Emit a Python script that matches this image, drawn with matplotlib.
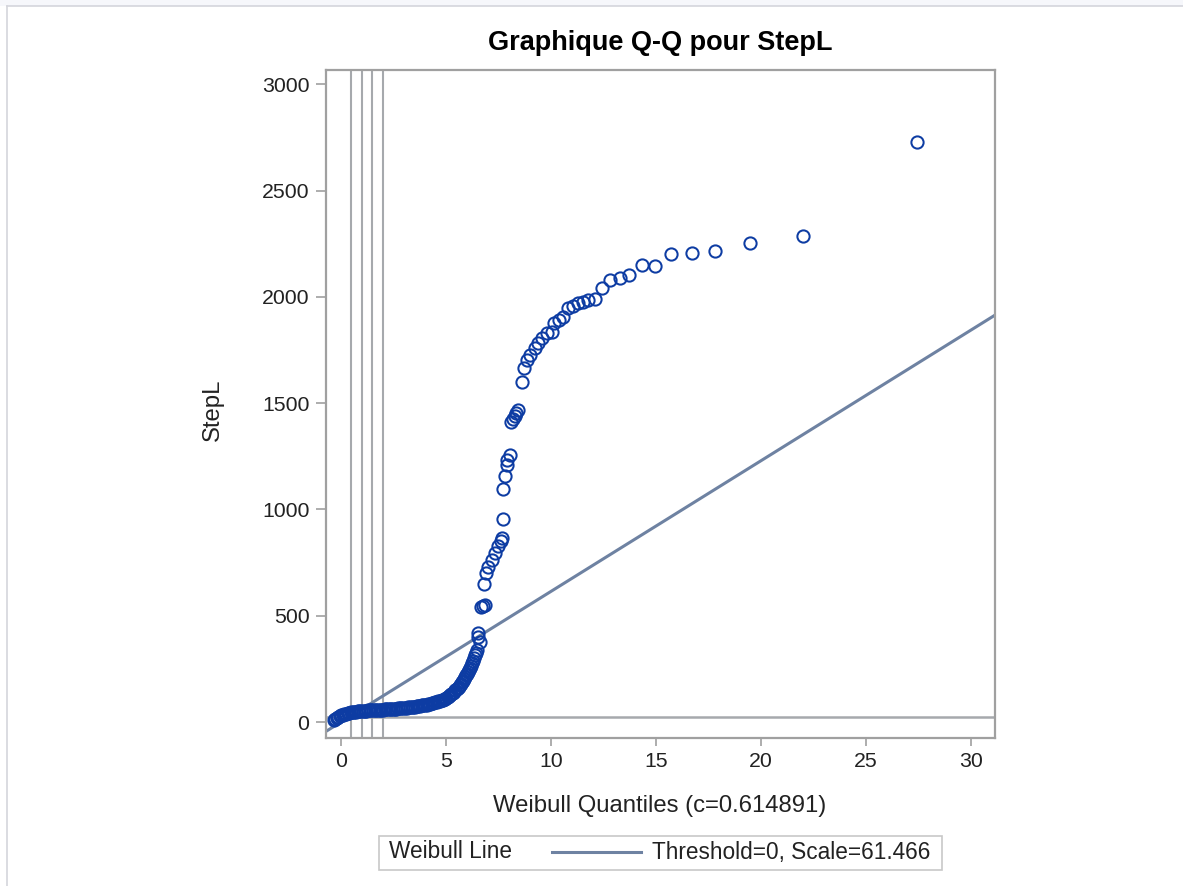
import matplotlib
matplotlib.use("Agg")
import matplotlib.pyplot as plt
from matplotlib.lines import Line2D
from matplotlib.patches import Rectangle

plt.rcParams['font.family'] = ['Liberation Sans', 'DejaVu Sans']

# ---- data ----
title = "Graphique Q-Q pour StepL"
x_label = "Weibull Quantiles (c=0.614891)"
y_label = "StepL"
legend_label = "Weibull Line"
legend_text = "Threshold=0, Scale=61.466"
threshold = 0.0
scale = 61.466

x_ticks = [0, 5, 10, 15, 20, 25, 30]
y_ticks = [0, 500, 1000, 1500, 2000, 2500, 3000]
href_values = [0.5, 1.0, 1.5, 2.0]
vref_values = [24]

# dense lower band of observations
band_q = [-0.35, -0.28, -0.21, -0.14, -0.07, 0.00, 0.08, 0.16, 0.24, 0.32,
          0.40, 0.48, 0.56, 0.64, 0.72, 0.80, 0.88, 0.96, 1.04, 1.12,
          1.20, 1.28, 1.36, 1.44, 1.52, 1.60, 1.68, 1.76, 1.84, 1.92,
          2.00, 2.08, 2.16, 2.24, 2.32, 2.40, 2.48, 2.56, 2.64, 2.72,
          2.80, 2.88, 2.96, 3.04, 3.12, 3.20, 3.28, 3.36, 3.44, 3.52,
          3.60, 3.68, 3.76, 3.84, 3.92, 4.00, 4.08, 4.16, 4.24, 4.32,
          4.40, 4.48, 4.56, 4.64, 4.72, 4.80, 4.88, 4.95, 5.02, 5.08,
          5.14, 5.20, 5.26, 5.32, 5.38, 5.44, 5.50, 5.55, 5.60, 5.65,
          5.70, 5.75, 5.80, 5.85, 5.90, 5.95, 6.00, 6.05, 6.10, 6.15,
          6.20, 6.25, 6.30, 6.35, 6.40, 6.45, 6.49]
band_v = [8, 14, 19, 24, 28, 32, 35, 38, 40, 42,
          44, 46, 47, 48, 49, 50, 51, 52, 53, 54,
          54, 55, 55, 56, 56, 57, 57, 58, 58, 59,
          59, 60, 60, 61, 61, 62, 62, 63, 63, 64,
          65, 65, 66, 67, 68, 69, 70, 71, 72, 73,
          74, 75, 76, 78, 79, 80, 82, 84, 86, 88,
          90, 92, 94, 97, 100, 103, 106, 110, 114, 118,
          122, 127, 132, 137, 143, 149, 155, 161, 167, 174,
          181, 188, 195, 203, 211, 219, 227, 236, 245, 255,
          265, 277, 289, 301, 314, 327, 340]

# sparser upper observations
upper_q = [6.50, 6.52, 6.60, 6.65, 6.75, 6.85, 6.81, 6.90, 7.01, 7.18,
           7.33, 7.49, 7.60, 7.65, 7.70, 7.73, 7.81, 7.89, 7.92, 8.05,
           8.10, 8.19, 8.29, 8.33, 8.43, 8.63, 8.73, 8.86, 9.00, 9.24,
           9.38, 9.57, 9.81, 10.05, 10.14, 10.38, 10.57, 10.81, 11.05, 11.29,
           11.52, 11.76, 12.10, 12.43, 12.81, 13.29, 13.71, 14.33, 14.95, 15.71,
           16.71, 17.81, 19.48, 22.00, 27.43]
upper_v = [401, 417, 377, 540, 548, 552, 649, 700, 729, 761,
           794, 827, 850, 865, 954, 1095, 1156, 1208, 1231, 1255,
           1410, 1424, 1438, 1452, 1466, 1599, 1665, 1701, 1725, 1758,
           1781, 1805, 1828, 1833, 1875, 1889, 1904, 1946, 1955, 1969,
           1974, 1983, 1988, 2040, 2077, 2087, 2101, 2148, 2143, 2200,
           2204, 2214, 2251, 2284, 2726]

x_limits = [-0.714, 31.14]
y_limits = [-75, 3067]

# ---- styles ----
marker_color = '#0d3ca3'
fit_color = '#6e82a2'
ref_color = '#a6a9ad'
frame_color = '#a0a0a0'
text_color = '#222222'

W, H = 1183, 886
fig = plt.figure(figsize=(W / 100, H / 100), dpi=100)
fig.patch.set_facecolor('white')

# outer page frame
fig.patches.append(Rectangle((0, 1 - 6 / H), 1, 6 / H, transform=fig.transFigure,
                             facecolor='#f6f7fb', edgecolor='none'))
fig.lines.append(Line2D([7 / W, 1], [1 - 6 / H, 1 - 6 / H], transform=fig.transFigure,
                        color='#d4d5dc', lw=1.2))
fig.lines.append(Line2D([7 / W, 7 / W], [0, 1 - 6 / H], transform=fig.transFigure,
                        color='#d4d5dc', lw=1.2))

ax = fig.add_axes([326 / W, 1 - 738 / H, (995 - 326) / W, (738 - 70) / H])

for v in href_values:
    ax.axvline(v, color=ref_color, lw=1.5, zorder=1)
for v in vref_values:
    ax.axhline(v, color=ref_color, lw=1.8, zorder=1)

ax.plot(x_limits, [threshold + scale * x_limits[0], threshold + scale * x_limits[1]],
        color=fit_color, lw=2.2, zorder=2)

ax.plot(band_q, band_v, linestyle='none', marker='o', ms=8.8, mfc='none',
        mec=marker_color, mew=1.45, zorder=3)
ax.plot(upper_q, upper_v, linestyle='none', marker='o', ms=8.8, mfc='none',
        mec=marker_color, mew=1.45, zorder=3)

ax.set_xlim(x_limits)
ax.set_ylim(y_limits)
ax.set_xticks(x_ticks)
ax.set_yticks(y_ticks)
ax.tick_params(axis='both', direction='out', color=frame_color, width=1.2,
               labelsize=15.3, labelcolor=text_color)
ax.tick_params(axis='x', length=6, pad=4)
ax.tick_params(axis='y', length=7, pad=5)
for s in ax.spines.values():
    s.set_color(frame_color)
    s.set_linewidth(1.6)

fig.text(660 / W, 1 - 43 / H, title, ha='center', va='center', fontsize=19.5,
         fontweight='bold', color='black')
fig.text(660 / W, 1 - 806 / H, x_label, ha='center', va='center', fontsize=17.2,
         color=text_color)
fig.text(213 / W, 1 - 410 / H, y_label, ha='center', va='center', fontsize=17.2,
         rotation=90, color=text_color)

# legend box
lx0, lx1, ly0, ly1 = 379, 942, 836, 870
fig.patches.append(Rectangle((lx0 / W, 1 - ly1 / H), (lx1 - lx0) / W, (ly1 - ly0) / H,
                             transform=fig.transFigure, facecolor='white',
                             edgecolor='#c8c8c8', lw=1.2))
ymid = 1 - 852 / H
fig.text(389 / W, ymid, legend_label, ha='left', va='center', fontsize=16.3, color=text_color)
fig.lines.append(Line2D([552 / W, 641 / W], [ymid, ymid], transform=fig.transFigure,
                        color=fit_color, lw=2.2))
fig.text(652 / W, ymid, legend_text, ha='left', va='center', fontsize=16.3, color=text_color)

fig.savefig('out.png', dpi=100)
